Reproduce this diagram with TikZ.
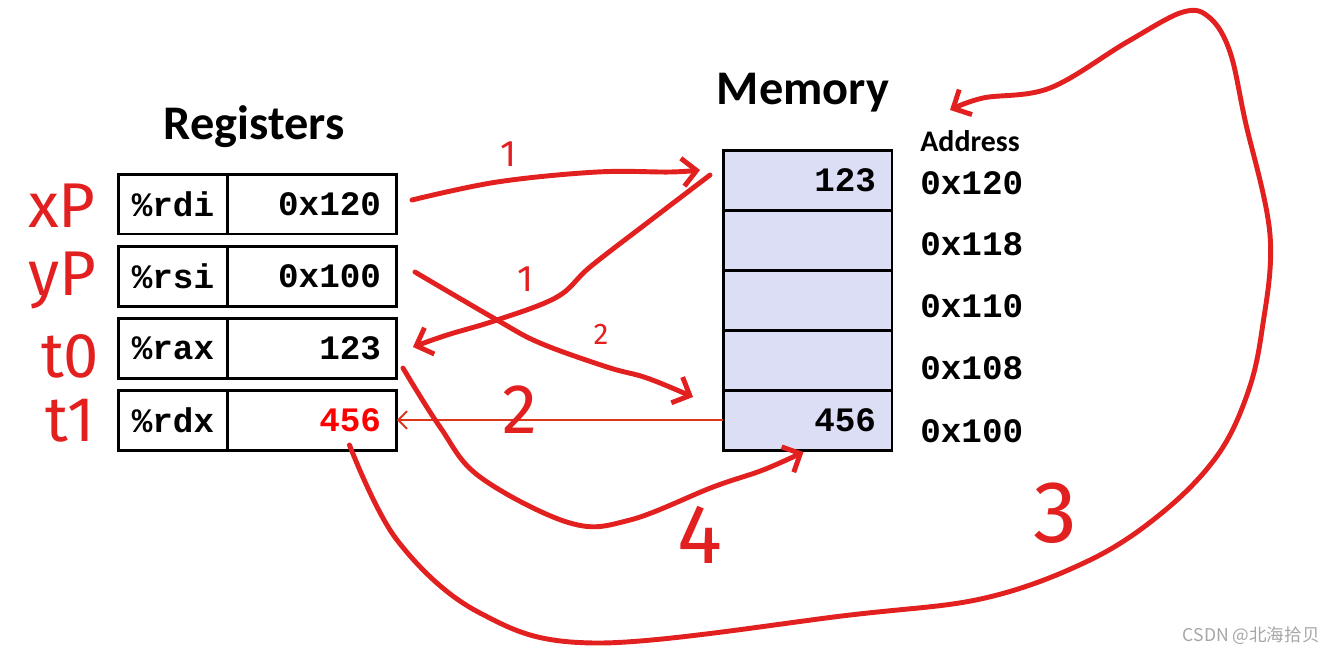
\documentclass[tikz,border=0pt]{standalone}
\usepackage{fontspec}
\setmainfont{Carlito}
\newfontfamily\codefont{Liberation Mono}
\newfontfamily\handfont{Fira Sans}
\newfontfamily\cjkfont{Noto Sans CJK SC}
\usetikzlibrary{arrows.meta,calc}
\definecolor{inkred}{HTML}{E2201F}
\definecolor{memfill}{HTML}{DCDEF6}
\definecolor{thinred}{HTML}{D9361A}
\definecolor{valred}{HTML}{FF0000}

\begin{document}
\begin{tikzpicture}[x=0.02cm, y=-0.02cm,
    regname/.style={draw, line width=1.7pt, outer sep=0pt, inner sep=0pt,
      minimum width=2.2cm, minimum height=1.2cm,
      font=\codefont\bfseries\fontsize{19.5}{22}\selectfont},
    regval/.style={draw, line width=1.7pt, outer sep=0pt, inner ysep=0pt,
      inner xsep=0.32cm, text width=2.74cm, minimum height=1.2cm, align=right,
      font=\codefont\bfseries\fontsize{19.5}{22}\selectfont},
    memcell/.style={regval, fill=memfill},
    addr/.style={anchor=west, inner sep=0pt,
      font=\codefont\bfseries\fontsize{19.5}{22}\selectfont},
    title/.style={inner sep=0pt, font=\bfseries\fontsize{27.5}{32}\selectfont},
    hand/.style={inkred, line width=2.8pt, line cap=round, line join=round},
    handtip/.style={-{Straight Barb[length=8pt,width=16pt]}},
    handtext/.style={text=inkred, inner sep=0pt,
      font=\handfont\fontsize{#1}{#1}\selectfont}]
  \useasboundingbox (0,0) rectangle (1335,654);

  % Registers
  \node[title] (regtitle) at (254,127) {Registers};
  \foreach \r/\y/\v in {rdi/204/0x120, rsi/276/0x100, rax/348/123}{
    \node[regname] (\r-name) at (173,\y) {\%\r};
    \node[regval, anchor=west] (\r-val) at (\r-name.east) {\v};
  }
  \node[regname] (rdx-name) at (173,420) {\%rdx};
  \node[regval, anchor=west, text=valred] (rdx-val) at (rdx-name.east) {456};

  % Memory
  \node[title] (memtitle) at (803,93) {Memory};
  \foreach \n/\y/\t in {120/180/123, 118/240/{}, 110/300/{}, 108/360/{}, 100/420/456}
    \node[memcell] (m\n) at (807.5,\y) {\t};

  % Addresses
  \node[anchor=west, inner sep=0pt, font=\bfseries\fontsize{17}{20}\selectfont]
    (addrtitle) at (920,141) {Address};
  \foreach \a/\y in {0x120/183, 0x118/244, 0x110/306, 0x108/368, 0x100/431}
    \node[addr] (a\a) at (920,\y) {\a};

  % load 456 into rdx
  \draw[thinred, line width=1.1pt, -{Straight Barb[length=5pt,width=10pt]}]
    (m100.west) -- (rdx-val.east);

  % handwritten names
  \node[handtext=36] (xp) at (62,206) {xP};
  \node[handtext=36] (yp) at (62,280) {yP};
  \node[handtext=36] (tzero) at (70,356) {t0};
  \node[handtext=36] (tone) at (70,421) {t1};

  % handwritten steps
  \coordinate (s1a) at ($(rdi-val.east)+(15,-4)$);
  \coordinate (e1a) at ($(m120.west)+(-23,-10)$);
  \coordinate (s1b) at ($(m120.west)+(-13,-5)$);
  \coordinate (e1b) at ($(rax-val.east)+(16,-1)$);
  \coordinate (s2) at ($(rsi-val.east)+(18,-4)$);
  \coordinate (e2) at ($(m100.west)+(-30,-23)$);
  \coordinate (s4) at ($(rax-val.east)+(6,20)$);
  \coordinate (e4) at ($(m100.south)+(-4,2)$);
  \coordinate (s3) at ($(rdx-val.south)+(37,-5)$);
  \coordinate (e3) at ($(addrtitle.west)+(30,-31)$);

  \draw[hand, handtip] plot[smooth, tension=0.6] coordinates
    {(s1a) (497,182) (597,172) (670,172) (e1a)};
  \draw[hand, handtip] plot[smooth, tension=0.6] coordinates
    {(s1b) (647,223) (590,267) (557,297) (497,320) (447,335) (e1b)};
  \draw[hand, handtip] plot[smooth, tension=0.6] coordinates
    {(s2) (497,320) (540,343) (607,367) (647,378) (e2)};
  \draw[hand, handtip] plot[smooth, tension=0.6] coordinates
    {(s4) (440,427) (480,477) (570,523) (630,520) (713,487) (763,470) (e4)};
  \draw[hand, handtip] plot[smooth, tension=0.6] coordinates
    {(s3) (397,540) (480,613) (597,643) (850,615) (985,598) (1090,560)
     (1163,512) (1217,456) (1247,395) (1262,330) (1270,235) (1245,120)
     (1230,52) (1210,18) (1183,12) (1127,42) (1050,88) (983,98) (e3)};

  \node[handtext=21] (n1a) at (508,154) {1};
  \node[handtext=21] (n1b) at (525,279) {1};
  \node[handtext=17] (n2a) at (601,334) {2};
  \node[handtext=40] (n2b) at (520,410) {2};
  \node[handtext=48] (n4) at (700,535) {4};
  \node[handtext=50] (n3) at (1055,513) {3};

  % watermark
  \node[anchor=east, inner sep=0pt, text=gray!70,
    font=\cjkfont\fontsize{10}{12}\selectfont] (mark) at (1320,636) {CSDN @北海拾贝};
\end{tikzpicture}
\end{document}
